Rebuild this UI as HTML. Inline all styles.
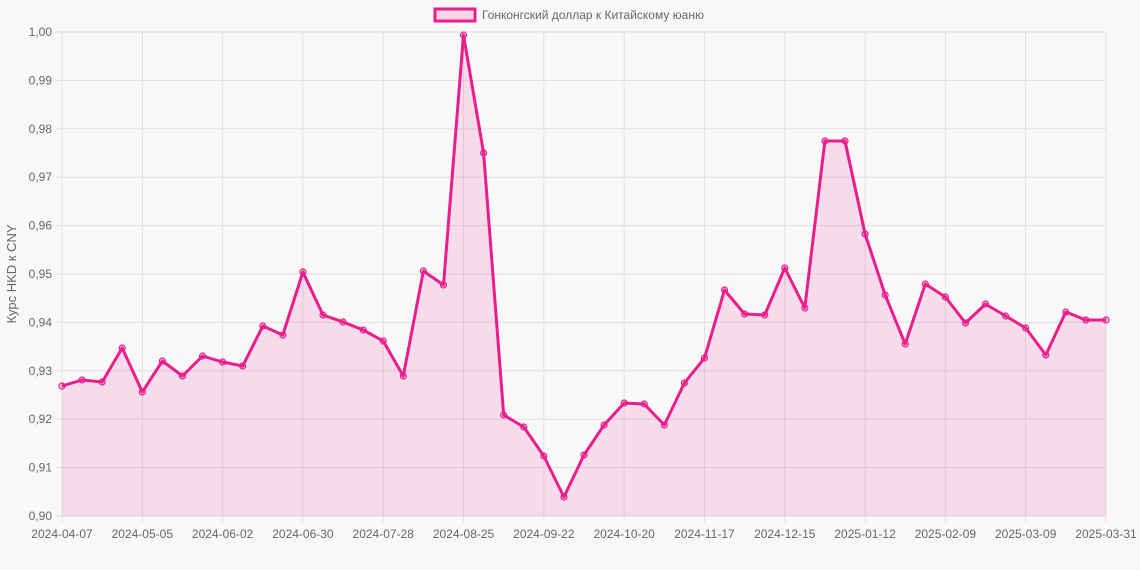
<!DOCTYPE html>
<html><head><meta charset="utf-8"><style>
html,body{margin:0;padding:0;background:#f8f8f8;}
svg{display:block;font-family:"Liberation Sans",Arial,sans-serif;}
</style></head><body>
<svg width="1140" height="570" viewBox="0 0 1140 570">
<rect width="1140" height="570" fill="#f8f8f8"/>
<g id="grid" stroke="#e0e0e0" stroke-width="1"></g>
<g id="ylab" font-size="12" fill="#666" text-anchor="end"></g>
<g id="xlab" font-size="12" fill="#666" text-anchor="middle"></g>
<path id="area" fill="rgba(233,30,140,0.13)" stroke="none"/>
<polyline id="line" fill="none" stroke="#e91e8c" stroke-width="3" stroke-linejoin="round"/>
<g id="pts" fill="rgba(233,30,140,0.25)" stroke="#e91e8c" stroke-width="1.2"></g>
<rect x="435" y="9" width="40" height="12" fill="rgba(233,30,140,0.15)" stroke="#e91e8c" stroke-width="3"/>
<text x="482" y="19" font-size="12" fill="#666">Гонконгский доллар к Китайскому юаню</text>
<text transform="translate(16,274) rotate(-90)" font-size="13" fill="#666" text-anchor="middle">Курс HKD к CNY</text>
</svg>
<script>
var ys=[386,380,382,348,392,361,376,356,362,366,326,335,272,315,322,330,341,376,271,285,35,153,415,427,456,497,455,425,403,404,425,383,358,290,314,315,268,308,141,141,234,295,344,284,297,323,304,316,328,355,312,320,320];
var L=62,R=1106,T=32,B=516,ns="http://www.w3.org/2000/svg";
var g=document.getElementById('grid'),yl=document.getElementById('ylab'),xl=document.getElementById('xlab');
function el(p,t,a){var e=document.createElementNS(ns,t);for(var k in a)e.setAttribute(k,a[k]);p.appendChild(e);return e;}
for(var i=0;i<=10;i++){var y=T+i*(B-T)/10;el(g,'line',{x1:L-6,x2:R,y1:y,y2:y});
var t=el(yl,'text',{x:L-10,y:y+4});t.textContent=(1-i*0.01).toFixed(2).replace('.',',');}
var labs=["2024-04-07","2024-05-05","2024-06-02","2024-06-30","2024-07-28","2024-08-25","2024-09-22","2024-10-20","2024-11-17","2024-12-15","2025-01-12","2025-02-09","2025-03-09","2025-03-31"];
var dx=(R-L)/52;
for(var j=0;j<labs.length;j++){var x=L+j*4*dx;el(g,'line',{x1:x,x2:x,y1:T,y2:B+6});
var t=el(xl,'text',{x:x,y:B+22});t.textContent=labs[j];}
var pts=ys.map(function(y,i){return (L+i*dx).toFixed(1)+','+y;});
document.getElementById('line').setAttribute('points',pts.join(' '));
document.getElementById('area').setAttribute('d','M'+L+','+B+' L'+pts.join(' L')+' L'+R+','+B+' Z');
var pg=document.getElementById('pts');
ys.forEach(function(y,i){el(pg,'circle',{cx:L+i*dx,cy:y,r:3});});
</script>
</body></html>
